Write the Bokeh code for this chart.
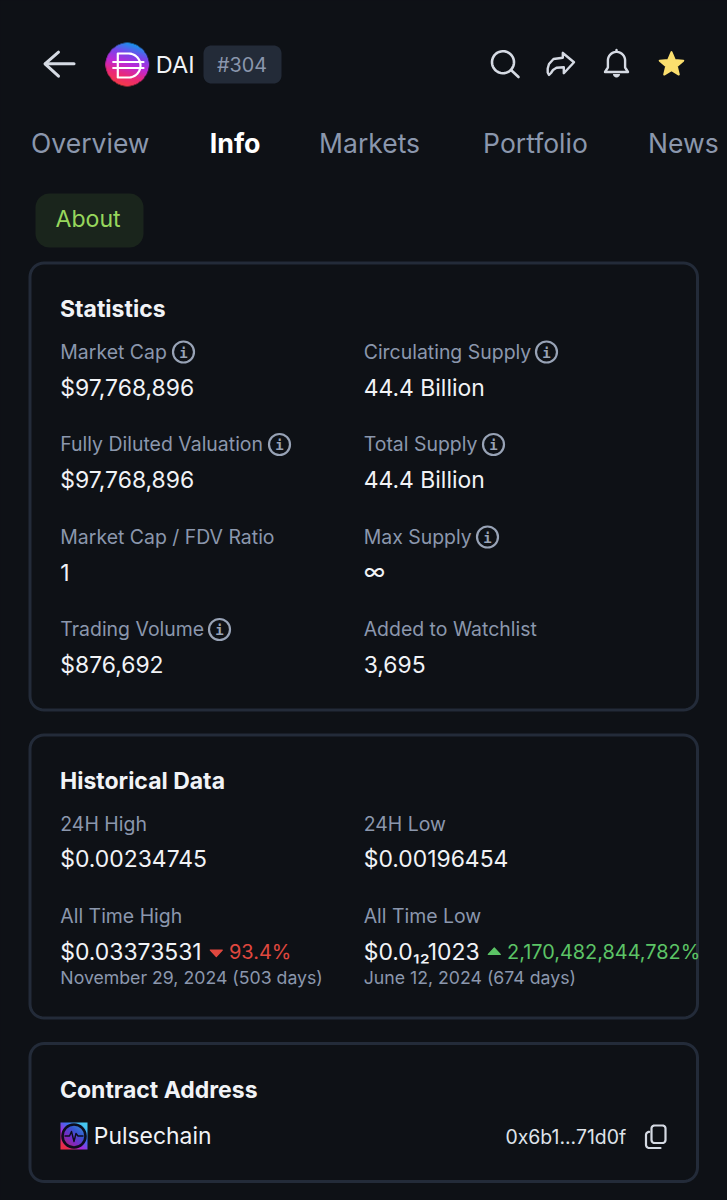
# -*- coding: utf-8 -*-
import numpy as np
from bokeh.core.properties import value
from bokeh.embed import file_html
from bokeh.models import ColumnDataSource, Range1d
from bokeh.plotting import figure
from bokeh.resources import INLINE

# texts
coin_name = "DAI"
coin_rank = "#304"
tabs = ["Overview", "Info", "Markets", "Portfolio", "News"]
sub_tab = "About"
card_titles = ["Statistics", "Historical Data", "Contract Address"]

stat_labels = ["Market Cap", "Circulating Supply", "Fully Diluted Valuation", "Total Supply",
               "Market Cap / FDV Ratio", "Max Supply", "Trading Volume", "Added to Watchlist"]
stat_values = ["$97,768,896", "44.4 Billion", "$97,768,896", "44.4 Billion",
               "1", "∞", "$876,692", "3,695"]

hist_labels = ["24H High", "24H Low", "All Time High", "All Time Low"]
hist_values = ["$0.00234745", "$0.00196454", "$0.03373531", "$0.0₁₂1023"]
hist_changes = ["93.4%", "2,170,482,844,782%"]
hist_dates = ["November 29, 2024 (503 days)", "June 12, 2024 (674 days)"]

chain_name = "Pulsechain"
contract = "0x6b1...71d0f"

# colours
BG = "#0e1116"
BORDER = "#232b39"
MUTED = "#8b97ad"
VALUE = "#f1f3f6"
ICON = "#d5dae3"
RED = "#e0483f"
GREEN = "#5cc466"

FONT = value("Inter")
WIDE, TALL = 727, 1200
COLS = [59.8, 363.2]

p = figure(width=WIDE, height=TALL, x_range=Range1d(0, WIDE), y_range=Range1d(TALL, 0),
           output_backend="svg", toolbar_location=None, min_border=0,
           x_axis_type=None, y_axis_type=None, background_fill_color=BG, border_fill_color=BG)
p.outline_line_color = None
p.grid.visible = False


def put_text(xs, ys, texts, size, color, style="normal"):
    # alphabetic text lands about 0.36em low in the svg output, so lift it back
    src = ColumnDataSource(data=dict(x=xs, y=[v - 0.36 * size for v in ys], text=texts))
    p.text("x", "y", text="text", source=src, text_font=FONT, text_font_size="%gpx" % size,
           text_color=color, text_font_style=style, text_baseline="alphabetic", text_align="left")


def corners(x0, y0, x1, y1, r):
    xs, ys = [], []
    for cx, cy, a in [(x1 - r, y0 + r, -90), (x1 - r, y1 - r, 0), (x0 + r, y1 - r, 90), (x0 + r, y0 + r, 180)]:
        t = np.radians(np.linspace(a, a + 90, 10))
        xs += list(cx + r * np.cos(t))
        ys += list(cy + r * np.sin(t))
    return xs + xs[:1], ys + ys[:1]


def box(x0, y0, x1, y1, r, fill=None, line=None, width=3):
    xs, ys = corners(x0, y0, x1, y1, r)
    p.patch(xs, ys, fill_color=fill, fill_alpha=1 if fill else 0, line_color=line, line_width=width,
            line_alpha=1 if line else 0, line_join="round")


def stroke(xs, ys, color=ICON, width=2.6):
    p.line(xs, ys, line_color=color, line_width=width, line_cap="round", line_join="round")


def arc_pts(cx, cy, r, a0, a1, n=24):
    t = np.radians(np.linspace(a0, a1, n))
    return list(cx + r * np.cos(t)), list(cy + r * np.sin(t))


def gradient_icon(x0, y0, size, stops, round_mask=True, px=96):
    # colour blend for the two little logos
    yy, xx = np.mgrid[0:px, 0:px] / (px - 1)
    img = np.zeros((px, px, 4), dtype=np.uint8)
    t = np.clip(stops["ky"] * yy + stops["kx"] * xx + stops["k0"], 0, 1)
    pos = np.linspace(0, 1, len(stops["cols"]))
    for c in range(3):
        img[..., c] = np.interp(t, pos, [col[c] for col in stops["cols"]])
    if round_mask:
        d = np.hypot(xx - 0.5, yy - 0.5) * px
        img[..., 3] = np.clip((px / 2 - d) * 255, 0, 255)
    else:
        img[..., 3] = 255
    view = img.view(dtype=np.uint32).reshape(px, px)
    p.image_rgba(image=[view], x=x0, y=y0, dw=size, dh=size)


def info_icon(cx, cy):
    p.scatter([cx], [cy], marker="circle", size=21, fill_alpha=0, line_color="#98a3b6", line_width=2.2)
    p.text([cx], [cy + 0.5], text=["i"], text_font=value("DejaVu Sans Mono"), text_font_size="14px",
           text_font_style="bold", text_color="#98a3b6", text_align="center", text_baseline="middle")


# header
stroke([58, 44.5, 58], [51.7, 63.3, 75.7], width=3)
stroke([45, 73.5], [63.3, 63.3], width=3)

gradient_icon(104.7, 42, 44, dict(kx=-0.3, ky=0.95, k0=0.17,
                                  cols=[(22, 150, 235), (120, 70, 235), (190, 40, 215), (235, 40, 120), (245, 60, 70)]))
dx, dy = arc_pts(128, 65, 12, -90, 90)
stroke([117.3, 128] + dx + [117.3, 117.3], [53, 53] + dy + [77, 53], color="#ffffff", width=2.2)
stroke([112.7, 143], [61.5, 61.5], color="#ffffff", width=2.2)
stroke([112.7, 143], [67.5, 67.5], color="#ffffff", width=2.2)
put_text([155.3], [72.5], [coin_name], 23.5, VALUE)

box(203, 45, 281, 83, 8, fill="#232b38")
put_text([216.5], [71.5], [coin_rank], 19.8, MUTED)

# search
sx, sy = arc_pts(502.5, 61.7, 11, 0, 360, 40)
stroke(sx, sy)
stroke([510.5, 518], [69.5, 76.5])

# share arrow
stroke([562.3, 573.5, 563.3, 563.3, 556, 552.5, 550.5, 548.5, 547.2, 547.2, 548.5, 553, 562.3, 562.3],
       [52.5, 61.7, 72.7, 66.7, 67.2, 69.5, 72.5, 74.5, 72, 68, 63.5, 58.5, 57.3, 52.5], width=2.4)

# bell
bx, by = arc_pts(616, 60, 8.6, 180, 360)
stroke([604.5, 607.4] + bx + [624.6, 627.5, 604.5], [71.5, 67] + by + [67, 71.5, 71.5], width=2.4)
stroke([616, 616], [49.5, 51.3], width=2.4)
ex, ey = arc_pts(616, 73.5, 3.5, 0, 180)
p.patch(ex, ey, fill_color=ICON, line_color=None)

# star
star_t = np.radians(np.arange(0, 360, 36) - 90)
star_r = np.where(np.arange(10) % 2 == 0, 12.4, 5.6)
p.patch(671 + star_r * np.cos(star_t), 64 + star_r * np.sin(star_t), fill_color="#fbdf6e", line_color="#fbdf6e",
        line_width=2, line_join="round")

# tabs
put_text([30.6, 318.6, 482.6, 647.6], [152] * 4, [tabs[0], tabs[2], tabs[3], tabs[4]], 26.5, MUTED)
put_text([209.3], [152], [tabs[1]], 26.8, "#ffffff", "bold")

box(35, 193, 143, 247, 14, fill="#1a251c")
put_text([55], [227], [sub_tab], 23.1, "#97d75c")

# cards
for y0, y1 in [(262.5, 709.5), (734.5, 1017.5), (1043, 1181)]:
    box(29.5, y0, 697, y1, 14, line=BORDER)
put_text([59.5, 59.5, 59.5], [316.5, 789, 1098], card_titles, 23, VALUE, "bold")

# statistics grid
label_rows = [358.5, 451, 543.5, 636]
value_rows = [395.3, 488, 580, 672.3]
put_text([COLS[i % 2] for i in range(8)], [label_rows[i // 2] for i in range(8)], stat_labels, 19.45, MUTED)
put_text([COLS[i % 2] for i in range(8)], [value_rows[i // 2] for i in range(8)], stat_values, 22.9, VALUE)
for cx, cy in [(183, 351.5), (546, 351.5), (279, 444), (493, 444), (487, 536.5), (219, 629)]:
    info_icon(cx, cy)

# historical data
put_text([COLS[i % 2] for i in range(4)], [831, 831, 923, 923], hist_labels, 19.45, MUTED)
put_text([COLS[i % 2] for i in range(4)], [867, 867, 959.5, 959.5], hist_values, 22.9, VALUE)
put_text([228.5], [959], hist_changes[:1], 19.9, RED)
put_text([506.5], [959], hist_changes[1:], 19.9, GREEN)
put_text(COLS, [983.5, 983.5], hist_dates, 17.7, MUTED)
p.patch([209.8, 221.8, 215.8], [949.5, 949.5, 956], fill_color=RED, line_color=RED, line_width=1.2, line_join="round")
p.patch([487.8, 499.8, 493.8], [954, 954, 947.5], fill_color=GREEN, line_color=GREEN, line_width=1.2, line_join="round")

# contract row
gradient_icon(60, 1122, 27, dict(kx=0.6, ky=-0.7, k0=0.55,
                                 cols=[(235, 45, 70), (170, 40, 220), (60, 110, 240), (70, 200, 240)]), round_mask=False)
p.scatter([73.5], [1135.5], marker="circle", size=23, fill_color="#2b2a9a", fill_alpha=0.35, line_color="#0c0d1c", line_width=2.6)
stroke([64.5, 69, 71, 73.5, 75.5, 77.5, 82.5], [1135.5, 1135.5, 1131, 1141, 1133, 1135.5, 1135.5], color="#0c0d1c", width=1.4)
put_text([93.3], [1144], [chain_name], 22.9, VALUE)
put_text([505], [1143], [contract], 19.4, "#dfe3ea")

box(651, 1125, 665, 1142.5, 3, line=ICON, width=2.2)
bend_x, bend_y = arc_pts(648.7, 1134.5, 3.2, 180, 270, 6)
end_x, end_y = arc_pts(648.7, 1144.3, 3.2, 90, 180, 6)
stroke(end_x + bend_x, end_y + bend_y, width=2.2)
stroke(end_x[:1] + [660], end_y[:1] + [1147.5], width=2.2)

PAGE = "{% block postamble %}<style>html, body { background: " + BG + "; }</style>{% endblock %}"
open("out.html", "w").write(file_html(p, INLINE, template=PAGE))
